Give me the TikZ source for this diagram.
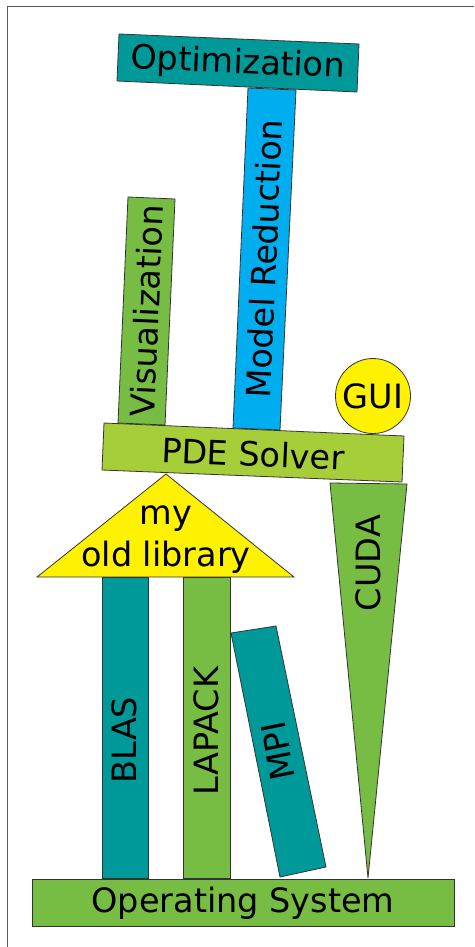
\documentclass[tikz,border=0pt]{standalone}
\usepackage{fontspec}
\setmainfont{DejaVu Sans}
\usepackage{tikz}
\usepackage{xcolor}
\definecolor{tealbox}{HTML}{009999}
\definecolor{bluebox}{HTML}{00AEEF}
\definecolor{greenbox}{HTML}{77BC43}
\definecolor{limebox}{HTML}{A6CE39}
\definecolor{yellowbox}{HTML}{FFF200}

\begin{document}
\begin{tikzpicture}[x=1pt, y=-1pt,
    panel/.style={draw=black!80, line width=0.8pt},
    txt/.style={inner sep=0pt, font=\fontsize{33.5}{42}\selectfont}]
                        \useasboundingbox (0,0) rectangle (474,947);
                        \draw[black!65, line width=1.5pt] (474,6.5) -- (7.5,6.5) -- (7.5,947);

                        % upper layer
                        \draw[panel, fill=greenbox] (128,197) -- (175,199) -- (165,425) -- (118,423) -- cycle;
                        \draw[panel, fill=bluebox] (248,88) -- (296,90) -- (280,430) -- (233,428) -- cycle;
                        \draw[panel, fill=tealbox] (119,34) -- (359,44) -- (357,92) -- (117,81) -- cycle;
                        \draw[panel, fill=yellowbox] (373,396) circle[radius=37.5pt];
                        \draw[panel, fill=limebox] (104,423) -- (404,436) -- (402,482) -- (102,470) -- cycle;

                        % lower layer
                        \draw[panel, fill=greenbox] (330,483) -- (407,484) -- (368,878) -- cycle;
                        \draw[panel, fill=yellowbox] (166,474) -- (294,577) -- (37,577) -- cycle;
                        \draw[panel, fill=tealbox] (102,577) rectangle (148,878);
                        \draw[panel, fill=greenbox] (183,577) rectangle (230,878);
                        \draw[panel, fill=tealbox] (231,633) -- (276,626) -- (326,867) -- (280,877) -- cycle;
                        \draw[panel, fill=greenbox] (32,879) rectangle (454,926);

                        \node[txt, rotate=-2.4] (opt) at (238,64) {Optimization};
                        \node[txt, rotate=87.5] (modred) at (264,259) {Model Reduction};
                        \node[txt, rotate=87.5] (vis) at (146.5,311) {Visualization};
                        \node[txt] (gui) at (373,396) {GUI};
                        \node[txt, rotate=-2.5] (pde) at (253,454) {PDE Solver};
                        \node[txt, rotate=90] (cuda) at (368,563) {CUDA};
                        \node[txt, align=center] (oldlib) at (166,540) {my\\old library};
                        \node[txt, rotate=90] (blas) at (124,740) {BLAS};
                        \node[txt, rotate=90] (lapack) at (206,731) {LAPACK};
                        \node[txt, rotate=101.4] (mpi) at (278,751) {MPI};
                        \node[txt] (os) at (243,903) {Operating System};
                    \end{tikzpicture}
\end{document}
